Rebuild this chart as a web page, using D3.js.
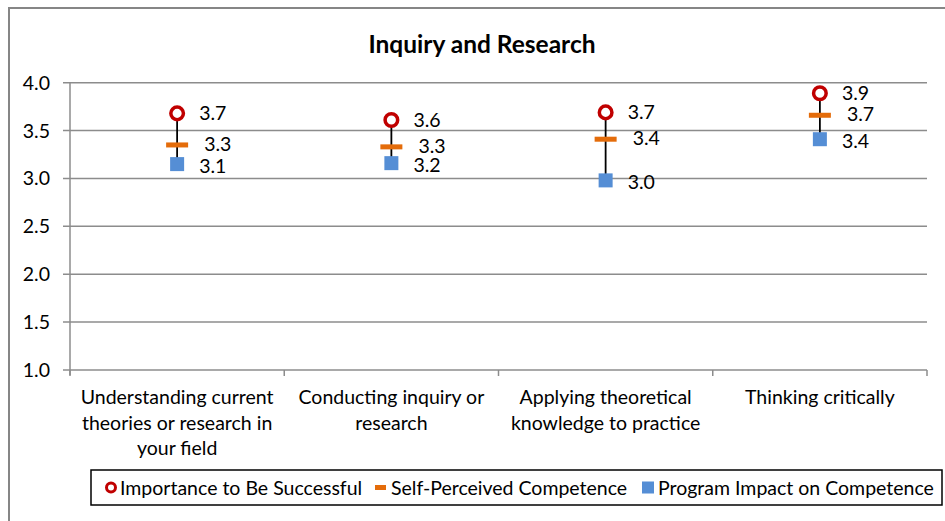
<!DOCTYPE html>
<html><head><meta charset="utf-8">
<script src="https://cdn.jsdelivr.net/npm/d3@7"></script>
<style>body{margin:0;background:#fff}svg{display:block;font-family:Lato,"Open Sans",sans-serif}</style>
</head><body><svg id="c" width="945" height="521"></svg>
<script>
const categories = [
  ["Understanding current","theories or research in","your field"],
  ["Conducting inquiry or","research"],
  ["Applying theoretical","knowledge to practice"],
  ["Thinking critically"]
];
const importance = [3.68, 3.61, 3.69, 3.89];
const selfPerceived = [3.35, 3.33, 3.41, 3.66];
const programImpact = [3.15, 3.16, 2.98, 3.41];
const importanceLabels = ["3.7","3.6","3.7","3.9"];
const selfLabels = ["3.3","3.3","3.4","3.7"];
const impactLabels = ["3.1","3.2","3.0","3.4"];
const yTicks = [1.0,1.5,2.0,2.5,3.0,3.5,4.0];
const seriesNames = ["Importance to Be Successful","Self-Perceived Competence","Program Impact on Competence"];

const svg = d3.select("#c");
const red="#C00000", orange="#E46C0A", blue="#558ED5", grid="#8C8C8C";
const fs = 19.5;
svg.append("rect").attr("x",9).attr("y",8).attr("width",960).attr("height",540)
  .attr("fill","none").attr("stroke","#868686").attr("stroke-width",2);

const x0=70, x1=927, yTop=82.7, yBot=370;
const x = d3.scaleBand().domain(d3.range(categories.length)).range([x0,x1]);
const y = d3.scaleLinear().domain([1,4]).range([yBot,yTop]);

svg.append("text").attr("x",482).attr("y",53).attr("text-anchor","middle")
  .attr("font-weight","bold").attr("font-size",24.5).text("Inquiry and Research");

svg.append("g").selectAll("line").data(yTicks).join("line")
  .attr("x1",x0-7).attr("x2",x1).attr("y1",d=>y(d)).attr("y2",d=>y(d))
  .attr("stroke",grid).attr("stroke-width",1.5);
svg.append("line").attr("x1",x0).attr("x2",x0).attr("y1",yTop).attr("y2",yBot+5).attr("stroke",grid).attr("stroke-width",1.5);
svg.append("g").selectAll("text").data(yTicks).join("text")
  .attr("x",50).attr("y",d=>y(d)+7).attr("text-anchor","end").attr("font-size",fs)
  .text(d=>d.toFixed(1));
const bounds = d3.range(categories.length+1).map(i=> i<categories.length ? x(i) : x1);
svg.append("g").selectAll("line").data(bounds).join("line")
  .attr("x1",d=>d).attr("x2",d=>d).attr("y1",yBot).attr("y2",yBot+6).attr("stroke",grid).attr("stroke-width",1.5);
categories.forEach((lines,i)=>{
  const cx = x(i)+x.bandwidth()/2;
  const t = svg.append("text").attr("text-anchor","middle").attr("font-size",fs);
  lines.forEach((l,j)=>t.append("tspan").attr("x",cx).attr("y",404+j*25.5).text(l));
});
const g = svg.append("g");
d3.range(categories.length).forEach(i=>{
  const cx = x(i)+x.bandwidth()/2;
  g.append("line").attr("x1",cx).attr("x2",cx).attr("y1",y(importance[i])).attr("y2",y(programImpact[i]))
    .attr("stroke","#000").attr("stroke-width",1.8);
  g.append("rect").attr("x",cx-7).attr("y",y(programImpact[i])-7).attr("width",14).attr("height",14).attr("fill",blue);
  g.append("rect").attr("x",cx-11).attr("y",y(selfPerceived[i])-2.5).attr("width",22).attr("height",5).attr("fill",orange);
  g.append("circle").attr("cx",cx).attr("cy",y(importance[i])).attr("r",6.3).attr("fill","#fff").attr("stroke",red).attr("stroke-width",3.5);
  g.append("text").attr("x",cx+22).attr("y",y(importance[i])+7).attr("font-size",fs).text(importanceLabels[i]);
  g.append("text").attr("x",cx+27).attr("y",y(selfPerceived[i])+6).attr("font-size",fs).text(selfLabels[i]);
  g.append("text").attr("x",cx+22).attr("y",y(programImpact[i])+9).attr("font-size",fs).text(impactLabels[i]);
});
svg.append("rect").attr("x",91).attr("y",470).attr("width",851).attr("height",35)
  .attr("fill","#fff").attr("stroke","#000").attr("stroke-width",1.5);
const ly=487.5;
svg.append("circle").attr("cx",111).attr("cy",ly).attr("r",4.5).attr("fill","#fff").attr("stroke",red).attr("stroke-width",3);
svg.append("text").attr("x",120).attr("y",ly+7).attr("font-size",fs).text(seriesNames[0]);
svg.append("rect").attr("x",375).attr("y",ly-2.5).attr("width",11).attr("height",5).attr("fill",orange);
svg.append("text").attr("x",391).attr("y",ly+7).attr("font-size",fs).text(seriesNames[1]);
svg.append("rect").attr("x",642).attr("y",ly-6).attr("width",12).attr("height",12).attr("fill",blue);
svg.append("text").attr("x",658).attr("y",ly+7).attr("font-size",fs).text(seriesNames[2]);
</script></body></html>
